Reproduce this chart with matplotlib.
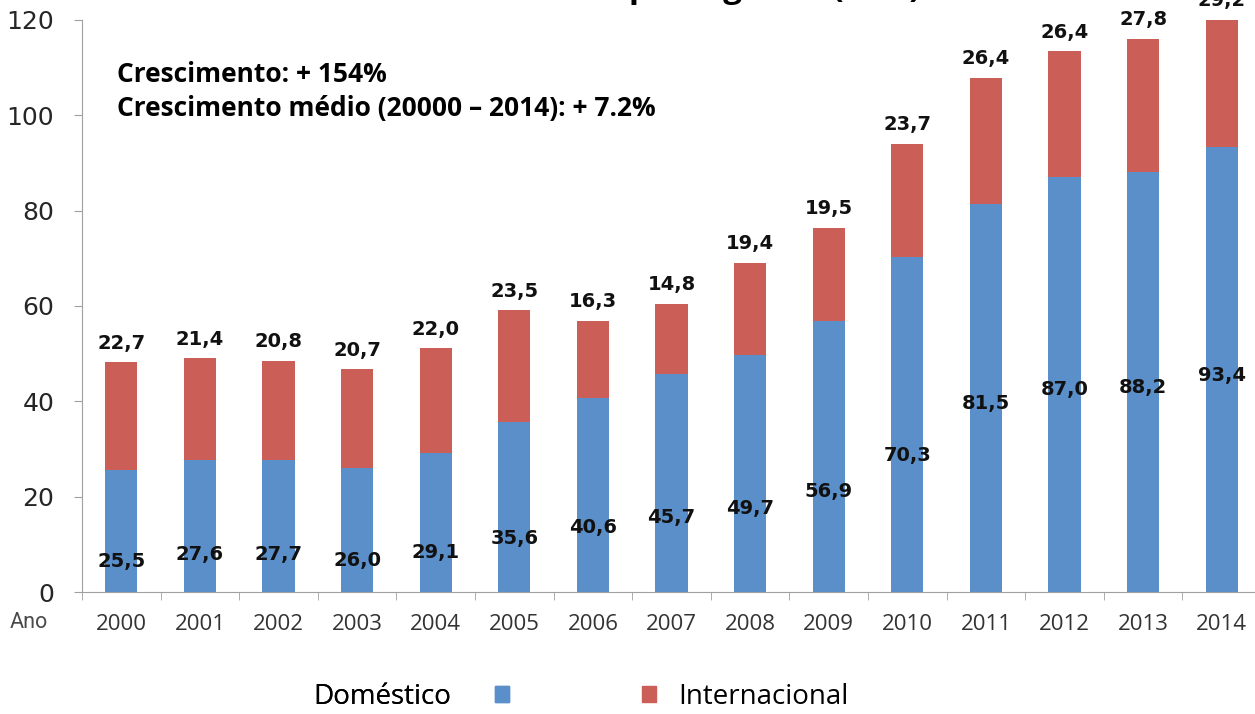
import numpy as np
import matplotlib.pyplot as plt
from matplotlib.patches import Patch

anos = ["2000", "2001", "2002", "2003", "2004", "2005", "2006", "2007",
        "2008", "2009", "2010", "2011", "2012", "2013", "2014"]
domestico = [25.5, 27.6, 27.7, 26.0, 29.1, 35.6, 40.6, 45.7,
             49.7, 56.9, 70.3, 81.5, 87.0, 88.2, 93.4]
internacional = [22.7, 21.4, 20.8, 20.7, 22.0, 23.5, 16.3, 14.8,
                 19.4, 19.5, 23.7, 26.4, 26.4, 27.8, 29.2]
# altura (em unidades do eixo) onde os rotulos domesticos aparecem
rotulo_dom_y = [6.3, 7.8, 7.8, 6.7, 8.2, 11.3, 13.6, 15.7,
                17.6, 21.0, 28.7, 39.6, 42.4, 43.0, 45.5]

cor_dom = "#5A8FCA"
cor_int = "#CC5E58"

fig = plt.figure(figsize=(12.55, 7.14), dpi=100)
ax = fig.add_axes([82/1255, 122/714, 1179/1255, 572/714])

x = np.arange(len(anos))
dom = np.array(domestico)
intl = np.array(internacional)
ax.bar(x, dom, width=0.41, color=cor_dom, label="Doméstico")
ax.bar(x, intl, width=0.41, bottom=dom, color=cor_int, label="Internacional")

ax.set_xlim(-0.5, 14.5)
ax.set_ylim(0, 120)
ax.set_yticks(range(0, 121, 20))
ax.tick_params(axis="y", labelsize=18, labelcolor="#262626", length=6,
               color="#a0a0a0", pad=14)
for t in ax.get_yticklabels():
    t.set_fontfamily("DejaVu Sans")

ax.set_xticks(x)
ax.set_xticklabels(anos, fontsize=16, color="#333333", family="Open Sans")
ax.set_xticks(np.arange(-0.5, 15, 1), minor=True)
ax.tick_params(axis="x", which="major", length=0, pad=16)
ax.tick_params(axis="x", which="minor", length=6, color="#a0a0a0")

for s in ["top", "right"]:
    ax.spines[s].set_visible(False)
ax.spines["left"].set_color("#a0a0a0")
ax.spines["bottom"].set_color("#a0a0a0")

# rotulos de valor
for i in range(len(anos)):
    topo = min(dom[i] + intl[i], 120)
    ax.annotate(f"{intl[i]:.1f}".replace(".", ","), (x[i], topo),
                xytext=(0, 7), textcoords="offset points",
                ha="center", va="bottom", fontsize=14, fontweight="bold",
                color="#111111", annotation_clip=False)
    ax.text(x[i], rotulo_dom_y[i], f"{dom[i]:.1f}".replace(".", ","),
            ha="center", va="center", fontsize=14, fontweight="bold",
            color="#111111")

ax.text(0.03, 0.905, "Crescimento: + 154%", transform=ax.transAxes,
        fontsize=19, fontweight="bold", family="Open Sans", va="center")
ax.text(0.03, 0.845, "Crescimento médio (20000 – 2014): + 7.2%",
        transform=ax.transAxes, fontsize=19, fontweight="bold",
        family="Open Sans", va="center")

fig.text(10/1255, 1 - 622/714, "Ano", fontsize=15.5, color="#4a4a4a",
         family="Roboto", va="center")

# titulo cortado no topo da imagem
fig.text(0.54, 1 + 3/714, "Número de passageiros (mm)", ha="center",
         va="baseline", fontsize=24, fontweight="bold", family="Open Sans")

leg1 = fig.legend(handles=[Patch(color=cor_dom, label="Doméstico")],
                  loc="center", bbox_to_anchor=(411/1255, 1 - 697/714),
                  frameon=False, markerfirst=False, handlelength=0.5,
                  handleheight=0.5, handletextpad=1.6,
                  prop={"family": "Open Sans", "size": 20})
leg2 = fig.legend(handles=[Patch(color=cor_int, label="Internacional")],
                  loc="center", bbox_to_anchor=(745/1255, 1 - 697/714),
                  frameon=False, handlelength=0.5, handleheight=0.5,
                  handletextpad=0.8, prop={"family": "Open Sans", "size": 20})
fig.add_artist(leg1)

fig.savefig("out.png", dpi=100)
